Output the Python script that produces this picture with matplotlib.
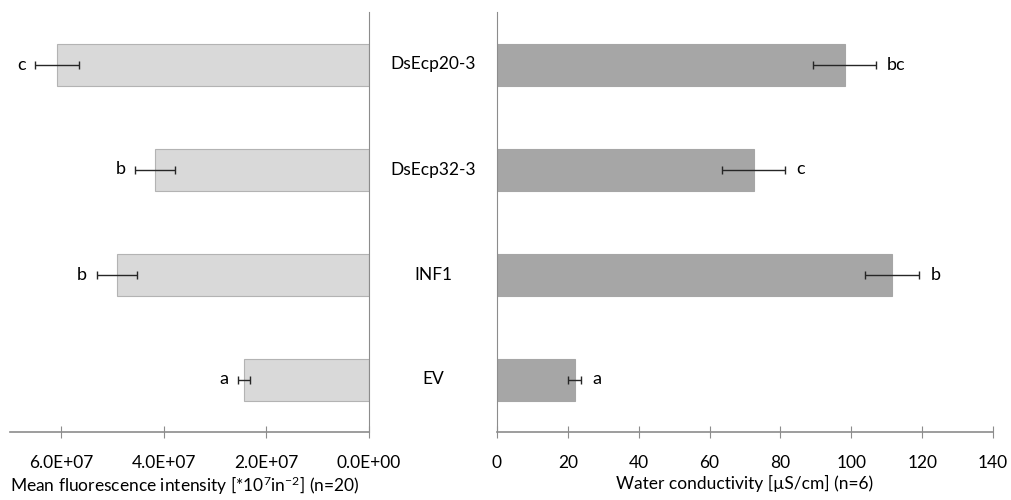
import numpy as np
import matplotlib.pyplot as plt
from matplotlib.transforms import blended_transform_factory

plt.rcParams['font.family'] = ['Lato', 'DejaVu Sans']
plt.rcParams['mathtext.default'] = 'regular'

# data (top to bottom)
groups = ['DsEcp20-3', 'DsEcp32-3', 'INF1', 'EV']
fluor = [6.08e7, 4.17e7, 4.92e7, 2.44e7]
fluor_err = [0.43e7, 0.39e7, 0.39e7, 0.11e7]
fluor_sig = ['c', 'b', 'b', 'a']
cond = [98.1, 72.4, 111.6, 21.9]
cond_err = [8.9, 9.0, 7.6, 1.9]
cond_sig = ['bc', 'c', 'b', 'a']

ypos = np.arange(len(groups))[::-1]
spine_col = '#8c8c8c'
fs = 12.5

fig = plt.figure(figsize=(10.11, 5), dpi=100)
axl = fig.add_axes([10/1011, 68/500, 359/1011, 420/500])
axr = fig.add_axes([497/1011, 68/500, 496/1011, 420/500])

# left panel
axl.barh(ypos, fluor, height=0.4, color='#d9d9d9', edgecolor='#b3b3b3', linewidth=0.8)
axl.errorbar(fluor, ypos, xerr=fluor_err, fmt='none', ecolor='#262626',
             elinewidth=1, capsize=3, capthick=1)
for v, e, y, s in zip(fluor, fluor_err, ypos, fluor_sig):
    axl.annotate(s, (v + e, y), xytext=(-7, 0), textcoords='offset points',
                 ha='right', va='center', fontsize=13)
axl.set_xlim(7e7, 0)
axl.set_ylim(-0.5, 3.5)
axl.set_xticks([6e7, 4e7, 2e7, 0])
axl.set_xticklabels(['6.0E+07', '4.0E+07', '2.0E+07', '0.0E+00'])
axl.set_xlabel(r'Mean fluorescence intensity [*10$^{7}$in$^{-2}$] (n=20)',
               fontsize=fs, loc='left', labelpad=3)
axl.set_yticks([])

# right panel
axr.barh(ypos, cond, height=0.4, color='#a6a6a6', edgecolor='#a6a6a6', linewidth=0.8)
axr.errorbar(cond, ypos, xerr=cond_err, fmt='none', ecolor='#262626',
             elinewidth=1, capsize=3, capthick=1)
for v, e, y, s in zip(cond, cond_err, ypos, cond_sig):
    axr.annotate(s, (v + e, y), xytext=(8, 0), textcoords='offset points',
                 ha='left', va='center', fontsize=13)
axr.set_xlim(0, 140)
axr.set_ylim(-0.5, 3.5)
axr.set_xticks(range(0, 141, 20))
axr.set_xlabel('Water conductivity [µS/cm] (n=6)', fontsize=fs, labelpad=3)
axr.set_yticks([])

# group labels between the panels
tr = blended_transform_factory(fig.transFigure, axr.transData)
for g, y in zip(groups, ypos):
    fig.text(433/1011, y, g, transform=tr, ha='center', va='center', fontsize=fs)

for ax in (axl, axr):
    for sp in ax.spines.values():
        sp.set_visible(False)
    ax.spines['bottom'].set_visible(True)
    ax.spines['bottom'].set_color(spine_col)
    ax.spines['bottom'].set_linewidth(1.2)
    ax.tick_params(axis='x', direction='inout', length=9, color=spine_col,
                   labelsize=fs, pad=12)
axl.spines['right'].set_visible(True)
axl.spines['right'].set_color(spine_col)
axr.spines['left'].set_visible(True)
axr.spines['left'].set_color(spine_col)

fig.savefig('out.png', dpi=100)
